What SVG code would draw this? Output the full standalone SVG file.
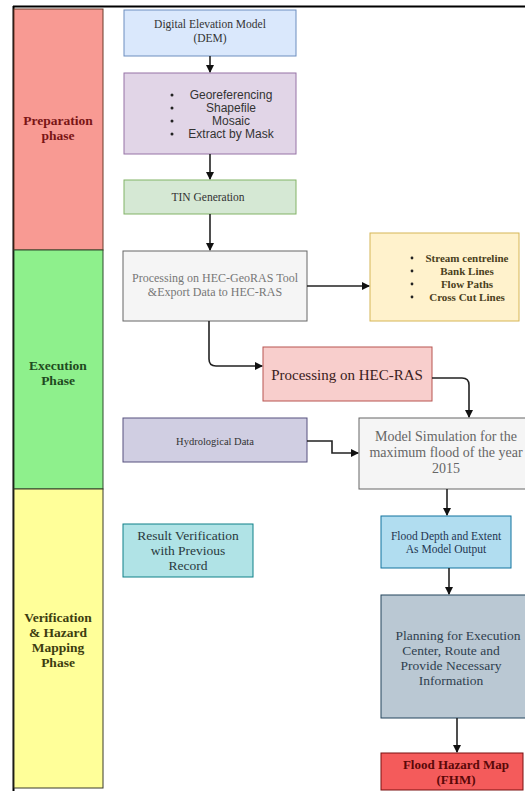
<svg xmlns="http://www.w3.org/2000/svg" width="525" height="791" viewBox="0 0 525 791">
<style>
text{font-family:"Liberation Serif","Times New Roman",serif;text-anchor:middle;fill:#333}
.sans{font-family:"Liberation Sans",Arial,sans-serif}
.ph{font-weight:bold;font-size:13.5px}
.c{fill:none;stroke:#222;stroke-width:1.6}
</style>
<defs>
<marker id="ah" markerWidth="8" markerHeight="8" refX="7" refY="4" orient="auto" markerUnits="userSpaceOnUse">
<path d="M0,0 L8,4 L0,8 Z" fill="#111"/>
</marker>
</defs>
<rect width="525" height="791" fill="#fff"/>
<line x1="13" y1="6.5" x2="525" y2="6.5" stroke="#000" stroke-width="2"/>
<line x1="13.5" y1="6" x2="13.5" y2="791" stroke="#000" stroke-width="2"/>

<g id="phase-preparation">
<rect x="14" y="9" width="89" height="241" fill="#f89a93" stroke="#6b3a2a" stroke-width="1"/>
<text x="58" y="125" class="ph" style="fill:#7a1515">Preparation</text>
<text x="58" y="140" class="ph" style="fill:#7a1515">phase</text>
</g>
<g id="phase-execution">
<rect x="14" y="250" width="89" height="239" fill="#8ef08c" stroke="#2e4a2e" stroke-width="1"/>
<text x="58" y="370" class="ph" style="fill:#1f4a1f">Execution</text>
<text x="58" y="385" class="ph" style="fill:#1f4a1f">Phase</text>
</g>
<g id="phase-verification">
<rect x="14" y="489" width="89" height="299" fill="#ffff99" stroke="#3a3a2a" stroke-width="1"/>
<text x="58" y="622" class="ph" style="fill:#3d3d10">Verification</text>
<text x="58" y="637" class="ph" style="fill:#3d3d10">&amp; Hazard</text>
<text x="58" y="652" class="ph" style="fill:#3d3d10">Mapping</text>
<text x="58" y="667" class="ph" style="fill:#3d3d10">Phase</text>
</g>

<g id="dem">
<rect x="124" y="10" width="172" height="46" fill="#dae8fc" stroke="#6c8ebf"/>
<text x="210" y="28" font-size="11.5">Digital Elevation Model</text>
<text x="210" y="42" font-size="11.5">(DEM)</text>
</g>
<g id="preprocessing">
<rect x="124" y="73" width="172" height="81" fill="#e1d5e7" stroke="#9673a6"/>
<text x="231" y="99" class="sans" font-size="12">Georeferencing</text>
<text x="231" y="112" class="sans" font-size="12">Shapefile</text>
<text x="231" y="125" class="sans" font-size="12">Mosaic</text>
<text x="231" y="138" class="sans" font-size="12">Extract by Mask</text>
<g fill="#222"><circle cx="172" cy="95" r="1.5"/><circle cx="172" cy="108" r="1.5"/><circle cx="172" cy="121" r="1.5"/><circle cx="172" cy="134" r="1.5"/></g>
</g>
<g id="tin">
<rect x="124" y="180" width="172" height="34" fill="#d5e8d4" stroke="#82b366"/>
<text x="208" y="201" font-size="11.5">TIN Generation</text>
</g>
<g id="hec-georas">
<rect x="123" y="251" width="184" height="70" fill="#f5f5f5" stroke="#666"/>
<text x="215" y="282" font-size="12" style="fill:#777">Processing on HEC-GeoRAS Tool</text>
<text x="215" y="296" font-size="12" style="fill:#777">&amp;Export Data to HEC-RAS</text>
</g>
<g id="layers">
<rect x="370" y="233" width="149" height="88" fill="#fff2cc" stroke="#d6b656"/>
<g font-size="11" font-weight="bold">
<text x="467" y="262" style="fill:#4a4020">Stream centreline</text>
<text x="467" y="275" style="fill:#4a4020">Bank Lines</text>
<text x="467" y="288" style="fill:#4a4020">Flow Paths</text>
<text x="467" y="301" style="fill:#4a4020">Cross Cut Lines</text>
</g>
<g fill="#222"><circle cx="412" cy="258" r="1.4"/><circle cx="412" cy="271" r="1.4"/><circle cx="412" cy="284" r="1.4"/><circle cx="412" cy="297" r="1.4"/></g>
</g>
<g id="hec-ras">
<rect x="263" y="347" width="169" height="54" fill="#f8cecc" stroke="#b85450"/>
<text x="347" y="380" font-size="15" style="fill:#3a2020">Processing on HEC-RAS</text>
</g>
<g id="hydrological">
<rect x="123" y="418" width="184" height="44" fill="#d0cee2" stroke="#56517e"/>
<text x="215" y="445" font-size="10.5" style="fill:#333">Hydrological Data</text>
</g>
<g id="model">
<rect x="359" y="418" width="175" height="71" fill="#f5f5f5" stroke="#666"/>
<text x="446" y="441" font-size="14" style="fill:#666">Model Simulation for the</text>
<text x="446" y="457" font-size="14" style="fill:#666">maximum flood of the year</text>
<text x="446" y="473" font-size="14" style="fill:#666">2015</text>
</g>
<g id="flood-depth">
<rect x="381" y="516" width="130" height="52" fill="#b1ddf0" stroke="#10739e"/>
<text x="446" y="540" font-size="11.5" style="fill:#1f3550">Flood Depth and Extent</text>
<text x="446" y="553" font-size="11.5" style="fill:#1f3550">As Model Output</text>
</g>
<g id="verification">
<rect x="123" y="524" width="130" height="53" fill="#b0e3e6" stroke="#0e8088"/>
<text x="188" y="540" font-size="13.5" style="fill:#2a3a40">Result Verification</text>
<text x="188" y="555" font-size="13.5" style="fill:#2a3a40">with Previous</text>
<text x="188" y="570" font-size="13.5" style="fill:#2a3a40">Record</text>
</g>
<g id="planning">
<rect x="381" y="595" width="152" height="123" fill="#bac8d3" stroke="#23445d"/>
<text x="458" y="640" font-size="13.5" style="fill:#2f3f4f">Planning for Execution</text>
<text x="451" y="655" font-size="13.5" style="fill:#2f3f4f">Center, Route and</text>
<text x="451" y="670" font-size="13.5" style="fill:#2f3f4f">Provide Necessary</text>
<text x="451" y="685" font-size="13.5" style="fill:#2f3f4f">Information</text>
</g>
<g id="fhm">
<rect x="381" y="753" width="142" height="37" fill="#f45b5b" stroke="#7a1010"/>
<text x="456" y="769" font-size="13" font-weight="bold" style="fill:#5a0808">Flood Hazard Map</text>
<text x="456" y="784" font-size="13" font-weight="bold" style="fill:#5a0808">(FHM)</text>
</g>

<g id="connectors">
<path class="c" d="M210,56 V72" marker-end="url(#ah)"/>
<path class="c" d="M210,154 V179" marker-end="url(#ah)"/>
<path class="c" d="M210,214 V250" marker-end="url(#ah)"/>
<path class="c" d="M307,286 H369" marker-end="url(#ah)"/>
<path class="c" d="M209,321 V359 Q209,366 216,366 H262" marker-end="url(#ah)"/>
<path class="c" d="M432,378 H462 Q469,378 469,385 V417" marker-end="url(#ah)"/>
<path class="c" d="M307,441 H332 V453 H358" marker-end="url(#ah)"/>
<path class="c" d="M447,489 V515" marker-end="url(#ah)"/>
<path class="c" d="M449,568 V594" marker-end="url(#ah)"/>
<path class="c" d="M457,718 V752" marker-end="url(#ah)"/>
</g>
</svg>
